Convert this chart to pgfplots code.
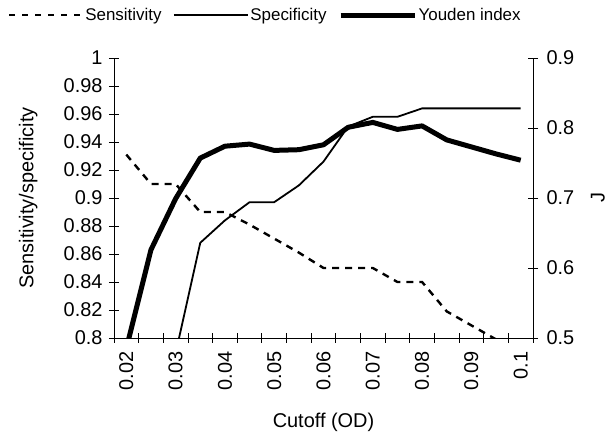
\documentclass[border=0pt]{standalone}
\usepackage{pgfplots}
\pgfplotsset{compat=1.18}
\usepackage{fontspec}
\setmainfont{Liberation Sans}
\pgfplotstableread{
x sens spec youden
0 0.931 0.554 0.485
1 0.910 0.716 0.626
2 0.910 0.789 0.699
3 0.890 0.868 0.757
4 0.890 0.884 0.774
5 0.881 0.897 0.777
6 0.871 0.897 0.768
7 0.861 0.909 0.769
8 0.850 0.926 0.776
9 0.850 0.951 0.801
10 0.850 0.958 0.808
11 0.840 0.958 0.798
12 0.840 0.964 0.803
13 0.819 0.964 0.783
14 0.809 0.964 0.773
15 0.799 0.964 0.763
16 0.790 0.964 0.754
}\datatable
\begin{document}
\begin{tikzpicture}
\useasboundingbox (-114bp,-96bp) rectangle (496bp,338bp);
\pgfplotsset{
  every axis/.append style={
    scale only axis, width=419bp, height=280bp,
    at={(0,0)}, anchor=south west,
    tick align=center, major tick length=10bp,
    /pgf/number format/assume math mode=true,
    tick label style={font=\fontsize{20}{24}\selectfont},
    label style={font=\fontsize{20}{24}\selectfont},
    x axis line style={-}, y axis line style={-},
    axis line style={line width=0.8bp},
    tick style={black, line width=0.8bp},
  },
  sensstyle/.style={black, line width=2.4bp, dash pattern=on 7bp off 6bp},
  specstyle/.style={black, line width=1.8bp},
  youdenstyle/.style={black, line width=5bp, line join=round},
}
\begin{axis}[
  xmin=-0.5, xmax=16.5, ymin=0.8, ymax=1,
  axis x line*=bottom, axis y line*=left,
  xtick={-0.5,0.5,...,16.5}, xticklabels={},
  extra x ticks={0,2,4,6,8,10,12,14,16},
  extra x tick labels={0.02,0.03,0.04,0.05,0.06,0.07,0.08,0.09,0.1},
  extra x tick style={major tick length=0pt},
  xticklabel style={rotate=90, anchor=east},
  xticklabel shift=10bp,
  ytick={0.8,0.82,0.84,0.86,0.88,0.9,0.92,0.94,0.96,0.98,1},
  yticklabels={0.8,0.82,0.84,0.86,0.88,0.9,0.92,0.94,0.96,0.98,1},
  yticklabel shift=3bp,
  xlabel={Cutoff (OD)}, ylabel={Sensitivity/specificity},
  xlabel style={at={(axis description cs:0.5,-0.3)}, anchor=center},
  ylabel style={at={(axis description cs:-0.205,0.5)}, anchor=center},
]
\addplot[sensstyle] table[x=x, y=sens] {\datatable};
\addplot[specstyle] table[x=x, y=spec] {\datatable};
\end{axis}
\begin{axis}[
  xmin=-0.5, xmax=16.5, ymin=0.5, ymax=0.9,
  axis x line=none, axis y line*=right,
  ytick={0.5,0.6,0.7,0.8,0.9},
  yticklabels={0.5,0.6,0.7,0.8,0.9},
  yticklabel shift=5bp,
  ylabel={J},
  ylabel style={at={(axis description cs:1.155,0.5)}, anchor=center},
  legend style={at={(axis description cs:-0.26,1.153)}, anchor=west, draw=none, fill=none,
    font=\fontsize{17}{20}\selectfont, nodes={inner sep=1.5bp},
    /tikz/every even column/.append style={column sep=10bp}},
  legend columns=3, legend cell align=left,
  legend image code/.code={\draw[#1] (0bp,0bp) -- (74bp,0bp);},
]
\addlegendimage{sensstyle, dash pattern=on 6bp off 7bp, line width=1.6bp}
\addlegendentry{Sensitivity}
\addlegendimage{specstyle}
\addlegendentry{Specificity}
\addplot[youdenstyle] table[x=x, y=youden] {\datatable};
\addlegendentry{Youden index}
\end{axis}
\end{tikzpicture}
\end{document}
